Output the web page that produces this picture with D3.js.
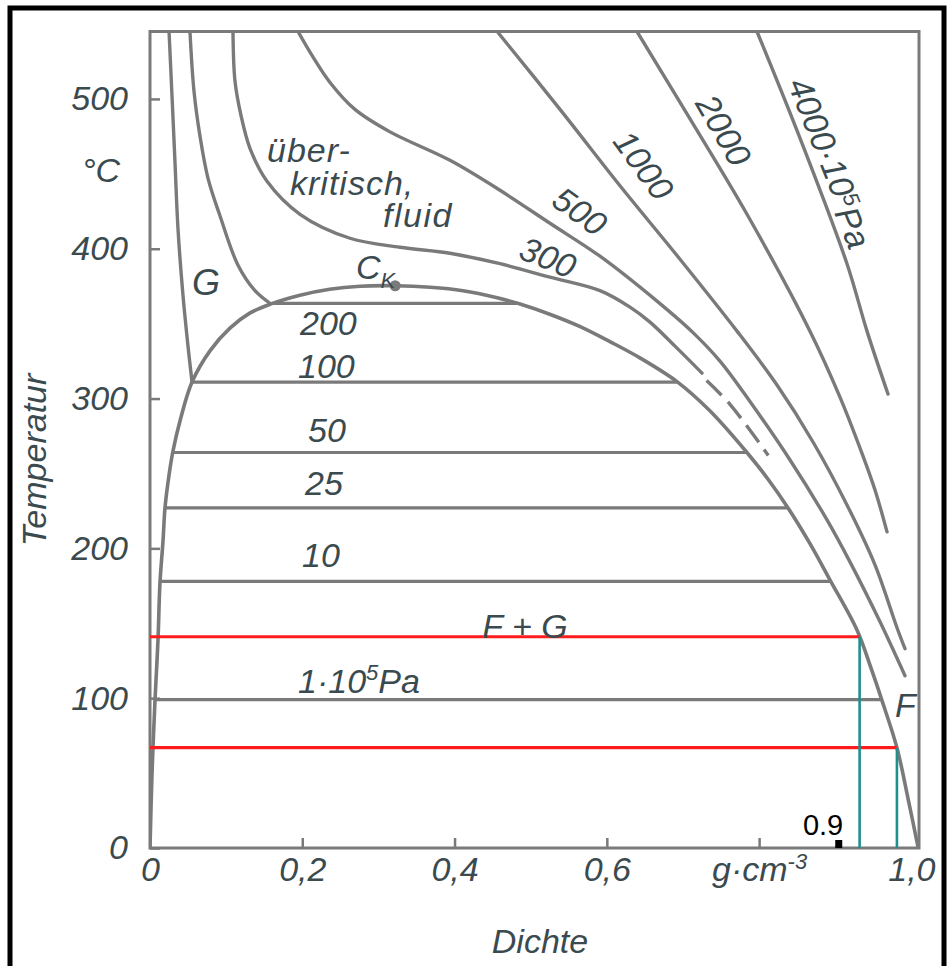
<!DOCTYPE html>
<html>
<head>
<meta charset="utf-8">
<script src="https://cdn.jsdelivr.net/npm/d3@7"></script>
<style>
  body { margin: 0; background: #fff; }
  svg text { font-family: "Liberation Sans", Arial, sans-serif; }
</style>
</head>
<body>
<svg id="chart" width="951" height="966"></svg>
<script>
// Zustandsdiagramm von Wasser: Temperatur über Dichte mit Isobaren

// --- axes ---
const densityTicks = [0, 0.2, 0.4, 0.6, 0.8, 1.0];
const densityTickLabels = ["0", "0,2", "0,4", "0,6", "g·cm", "1,0"];
const tempTicks = [0, 100, 200, 300, 400, 500];
const tempTickLabels = ["0", "100", "200", "300", "400", "500"];

// --- saturation curve [density g/cm³, temperature °C] ---
const vaporBranch = [[0, 0], [0.0026, 49], [0.0066, 99], [0.0105, 139], [0.0131, 177], [0.0171, 205],
  [0.0197, 227], [0.025, 249], [0.0302, 265], [0.0394, 285], [0.0552, 311], [0.079, 332],
  [0.105, 347], [0.131, 357], [0.158, 363], [0.197, 369], [0.236, 373], [0.276, 375], [0.322, 375.3]];
const liquidBranch = [[0.322, 375.3], [0.368, 374.3], [0.411, 372], [0.456, 367.3], [0.486, 363.1],
  [0.525, 356.3], [0.565, 348], [0.604, 338], [0.644, 327], [0.693, 311], [0.735, 292],
  [0.784, 264], [0.812, 246], [0.838, 227], [0.867, 203], [0.893, 179], [0.929, 145],
  [0.947, 120], [0.961, 99], [0.981, 67], [0.996, 32], [1.009, 0]];
const criticalPoint = [0.322, 375.3];

// --- isobars inside the two-phase region (pressure in 10^5 Pa, temperature °C) ---
const isobarPressures = [1, 10, 25, 50, 100, 200];
const isobarTemps = [99, 178, 227, 264, 311, 363.5];

// --- isobars outside the two-phase region [density, temperature] ---
const isobar100Gas = [[0.025, 545], [0.0289, 502], [0.0328, 458], [0.0368, 413], [0.0433, 369],
  [0.0499, 335], [0.0552, 311]];
const isobar200Gas = [[0.0525, 545], [0.0578, 505], [0.0657, 475], [0.0762, 447], [0.0919, 422],
  [0.1156, 389], [0.1379, 372], [0.1576, 363.5]];
const isobar300 = [[0.109, 545], [0.1116, 512], [0.1195, 489], [0.1313, 467], [0.1537, 445],
  [0.197, 423], [0.2627, 407], [0.3283, 401], [0.394, 397], [0.4597, 390], [0.5253, 381],
  [0.591, 372], [0.6304, 361], [0.6567, 351], [0.6895, 335], [0.725, 317]];
const isobar300Dashed = [[0.731, 312], [0.762, 296], [0.812, 262]];
const isobar500 = [[0.1944, 545], [0.2128, 529], [0.2364, 511], [0.2692, 493], [0.3152, 478],
  [0.394, 459], [0.4597, 439], [0.5253, 417], [0.591, 395], [0.6659, 365], [0.7132, 344],
  [0.7486, 325], [0.788, 298], [0.8406, 259], [0.8892, 219], [0.9193, 191], [0.9588, 151],
  [0.9916, 115]];
const isobar1000 = [[0.456, 545], [0.5385, 493], [0.6173, 442], [0.6961, 393], [0.771, 345],
  [0.8235, 309], [0.8708, 271], [0.9154, 229], [0.9522, 189], [0.9811, 147], [0.9916, 133]];
const isobar2000 = [[0.6396, 545], [0.7053, 490], [0.7841, 423], [0.8668, 345], [0.9062, 301],
  [0.9325, 267], [0.9522, 239], [0.968, 211]];
const isobar4000 = [[0.7972, 545], [0.8497, 479], [0.9154, 390], [0.9417, 345], [0.9693, 303]];

// --- marked liquid states: temperature and density on the boiling curve ---
const markTemps = [141, 67];
const markDensities = [0.932, 0.981];
const markerDensity = 0.9;

// ---------------------------------------------------------------
const svg = d3.select("#chart");
const lineColor = "#7a7a7a";
const textColor = "#3b4a4f";

const x = d3.scaleLinear().domain([0, 1.01]).range([150, 919]);
const y = d3.scaleLinear().domain([0, 545]).range([848, 31.5]);

// outer black border
svg.append("rect")
  .attr("x", 10).attr("y", 8).attr("width", 934).attr("height", 1000)
  .attr("fill", "none").attr("stroke", "#000").attr("stroke-width", 5);

svg.append("clipPath").attr("id", "plotClip")
  .append("rect")
  .attr("x", x(0)).attr("y", y(545))
  .attr("width", x(1.01) - x(0)).attr("height", y(0) - y(545));

const line = d3.line()
  .x(d => x(d[0])).y(d => y(d[1]))
  .curve(d3.curveCatmullRom.alpha(0.5));

const plot = svg.append("g").attr("clip-path", "url(#plotClip)");

// density on a saturation branch at a given temperature
function densityAt(branch, t) {
  for (let i = 0; i < branch.length - 1; i++) {
    const a = branch[i], b = branch[i + 1];
    if ((t - a[1]) * (t - b[1]) <= 0 && a[1] !== b[1]) {
      return a[0] + (b[0] - a[0]) * (t - a[1]) / (b[1] - a[1]);
    }
  }
  return branch[branch.length - 1][0];
}

// isobars
const solidCurves = [isobar100Gas, isobar200Gas, isobar300, isobar500, isobar1000, isobar2000, isobar4000];
plot.selectAll("path.isobar").data(solidCurves).join("path")
  .attr("class", "isobar")
  .attr("d", line)
  .attr("fill", "none").attr("stroke", lineColor)
  .attr("stroke-width", 3.4).attr("stroke-linecap", "round");

plot.append("path")
  .attr("d", line(isobar300Dashed))
  .attr("fill", "none").attr("stroke", lineColor)
  .attr("stroke-width", 3.4).attr("stroke-dasharray", "21 9");

// saturation curve
plot.append("path")
  .attr("d", line(vaporBranch.concat(liquidBranch.slice(1))))
  .attr("fill", "none").attr("stroke", lineColor).attr("stroke-width", 3.6);

// horizontal isobars across the two-phase region
plot.selectAll("line.tie").data(isobarTemps).join("line")
  .attr("class", "tie")
  .attr("x1", t => x(densityAt(vaporBranch, t)))
  .attr("x2", t => x(densityAt(liquidBranch, t)))
  .attr("y1", t => y(t)).attr("y2", t => y(t))
  .attr("stroke", lineColor).attr("stroke-width", 3.2);

// critical point
svg.append("circle")
  .attr("cx", x(criticalPoint[0])).attr("cy", y(criticalPoint[1]))
  .attr("r", 5.5).attr("fill", lineColor);

// frame
svg.append("rect")
  .attr("x", x(0)).attr("y", y(545))
  .attr("width", x(1.01) - x(0)).attr("height", y(0) - y(545))
  .attr("fill", "none").attr("stroke", lineColor).attr("stroke-width", 3);

// axes
const fontSize = 34;
const xAxis = svg.append("g")
  .attr("transform", `translate(0,${y(0)})`)
  .call(d3.axisBottom(x).tickValues(densityTicks).tickSize(-10).tickPadding(9)
    .tickFormat((d, i) => densityTickLabels[i]));
const yAxis = svg.append("g")
  .attr("transform", `translate(${x(0)},0)`)
  .call(d3.axisLeft(y).tickValues(tempTicks).tickSize(-10).tickPadding(22)
    .tickFormat((d, i) => tempTickLabels[i]));
[xAxis, yAxis].forEach(g => {
  g.select(".domain").remove();
  g.selectAll(".tick line").attr("stroke", lineColor).attr("stroke-width", 2.5);
  g.selectAll(".tick text")
    .attr("font-family", '"Liberation Sans", Arial, sans-serif')
    .attr("font-style", "italic").attr("font-size", fontSize).attr("fill", textColor);
});
xAxis.selectAll(".tick").filter(d => d === 0 || d === 1.0).select("line").remove();
xAxis.selectAll(".tick").filter(d => d === 0.8).select("text")
  .append("tspan").attr("dy", "-0.55em").attr("font-size", 22).text("-3");

// marked states: red isotherm to the boiling curve, teal density drop to the axis
svg.selectAll("line.markT").data(markTemps).join("line")
  .attr("class", "markT")
  .attr("x1", x(0)).attr("x2", (t, i) => x(markDensities[i]))
  .attr("y1", t => y(t)).attr("y2", t => y(t))
  .attr("stroke", "#ff1c1c").attr("stroke-width", 3.2);
svg.selectAll("line.markD").data(markDensities).join("line")
  .attr("class", "markD")
  .attr("x1", d => x(d)).attr("x2", d => x(d))
  .attr("y1", (d, i) => y(markTemps[i])).attr("y2", y(0))
  .attr("stroke", "#1e8e8e").attr("stroke-width", 2.6);

// 0.9 marker on the density axis
svg.append("rect")
  .attr("x", x(markerDensity)).attr("y", y(0) - 8)
  .attr("width", 7).attr("height", 8).attr("fill", "#000");
svg.append("text")
  .attr("x", x(markerDensity) + 8).attr("y", y(0) - 13)
  .attr("text-anchor", "end").attr("font-size", 29)
  .style("font-style", "normal").attr("fill", "#000")
  .text(String(markerDensity));

// text labels
const labels = svg.append("g").attr("fill", textColor).attr("font-size", fontSize)
  .style("font-style", "italic");

labels.append("text")
  .attr("transform", "translate(46,460) rotate(-90)")
  .attr("text-anchor", "middle").text("Temperatur");
labels.append("text")
  .attr("x", 540).attr("y", 953).attr("text-anchor", "middle").text("Dichte");
labels.append("text")
  .attr("x", 101).attr("y", 182).attr("text-anchor", "middle").text("°C");

// pressure labels of the horizontal isobars
const tieLabelPos = [
  { x: 298, y: 693 },
  { x: 302, y: 567 },
  { x: 305, y: 495 },
  { x: 308, y: 442 },
  { x: 298, y: 378 },
  { x: 300, y: 335 }
];
isobarPressures.forEach((p, i) => {
  const t = labels.append("text").attr("x", tieLabelPos[i].x).attr("y", tieLabelPos[i].y);
  if (p === 1) {
    t.append("tspan").text("1·10");
    t.append("tspan").attr("dy", -13).attr("font-size", 22).text("5");
    t.append("tspan").attr("dy", 13).text("Pa");
  } else {
    t.text(String(p));
  }
});

// pressure labels along the supercritical isobars
const slantLabels = [
  { text: "300", cx: 548, cy: 257, angle: 22 },
  { text: "500", cx: 580, cy: 211, angle: 36 },
  { text: "1000", cx: 644, cy: 165, angle: 54 },
  { text: "2000", cx: 724, cy: 130, angle: 60 }
];
slantLabels.forEach(l => {
  labels.append("text")
    .attr("transform", `translate(${l.cx},${l.cy}) rotate(${l.angle})`)
    .attr("text-anchor", "middle").attr("dy", "0.36em").text(l.text);
});
const p4000 = labels.append("text")
  .attr("transform", "translate(832,162) rotate(68)")
  .attr("text-anchor", "middle").attr("dy", "0.36em");
p4000.append("tspan").text("4000·10");
p4000.append("tspan").attr("dy", "-0.4em").attr("font-size", 22).text("5");
p4000.append("tspan").attr("dy", "0.4em").text("Pa");

// region labels
labels.append("text").attr("x", 192).attr("y", 295).attr("font-size", 36).text("G");
labels.append("text").attr("x", 895).attr("y", 717).text("F");
labels.append("text").attr("x", 525).attr("y", 638).attr("text-anchor", "middle").text("F + G");
labels.append("text").attr("x", 267).attr("y", 162).attr("letter-spacing", 1).text("über-");
labels.append("text").attr("x", 290).attr("y", 195).attr("letter-spacing", 1).text("kritisch,");
labels.append("text").attr("x", 383).attr("y", 227).attr("letter-spacing", 1.5).text("fluid");
const ck = labels.append("text").attr("x", 356).attr("y", 279);
ck.append("tspan").text("C");
ck.append("tspan").attr("dy", 9).attr("font-size", 22).text("K");
</script>
</body>
</html>
